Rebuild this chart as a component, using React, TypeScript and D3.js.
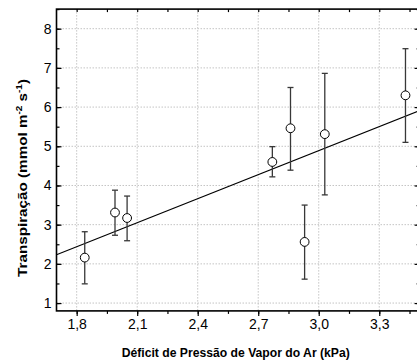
import { useEffect, useRef } from "react";
import * as d3 from "d3";

// values
const vpd = [1.84, 1.99, 2.05, 2.77, 2.86, 2.93, 3.03, 3.43];
const transp = [2.16, 3.31, 3.17, 4.6, 5.46, 2.56, 5.31, 6.3];
const errHigh = [2.82, 3.88, 3.73, 4.99, 6.5, 3.5, 6.86, 7.49];
const errLow = [1.49, 2.73, 2.59, 4.22, 4.39, 1.61, 3.76, 5.1];

// fitted line endpoints
const fitX = [1.7, 3.5];
const fitY = [2.235, 5.91];

const xTicks = [1.8, 2.1, 2.4, 2.7, 3.0, 3.3];
const yTicks = [1, 2, 3, 4, 5, 6, 7, 8];

export default function App() {
  const svgRef = useRef<SVGSVGElement>(null);

  useEffect(() => {
    document.body.style.margin = "0";
    const svg = d3.select(svgRef.current);
    svg.selectAll("*").remove();

    const W = 417, H = 363;
    const left = 56.5, right = 419.6, top = 9.1, bottom = 310.9;
    const font = "'Liberation Sans', Arial, sans-serif";

    const x = d3.scaleLinear().domain([1.7, 3.5]).range([left, right]);
    const y = d3.scaleLinear().domain([0.8, 8.5]).range([bottom, top]);

    svg.attr("width", W).attr("height", H).style("background", "#fff");

    // grid
    const grid = svg.append("g")
      .attr("stroke", "#c4c4c4")
      .attr("stroke-width", 1)
      .attr("stroke-dasharray", "1.5,1.5");
    grid.selectAll(".gx").data(xTicks).join("line")
      .attr("x1", d => x(d)).attr("x2", d => x(d))
      .attr("y1", top).attr("y2", bottom);
    grid.selectAll(".gy").data(yTicks).join("line")
      .attr("x1", left).attr("x2", right)
      .attr("y1", d => y(d)).attr("y2", d => y(d));

    // fit line
    const line = d3.line<number>()
      .x((d, i) => x(fitX[i]))
      .y(d => y(d));
    svg.append("path")
      .datum(fitY)
      .attr("d", line)
      .attr("fill", "none")
      .attr("stroke", "#000")
      .attr("stroke-width", 1.1);

    // error bars
    const eb = svg.append("g").attr("stroke", "#383838").attr("stroke-width", 1.3);
    vpd.forEach((v, i) => {
      const cx = x(v);
      eb.append("line").attr("x1", cx).attr("x2", cx)
        .attr("y1", y(errLow[i])).attr("y2", y(errHigh[i]));
      eb.append("line").attr("x1", cx - 3).attr("x2", cx + 3)
        .attr("y1", y(errLow[i])).attr("y2", y(errLow[i]));
      eb.append("line").attr("x1", cx - 3).attr("x2", cx + 3)
        .attr("y1", y(errHigh[i])).attr("y2", y(errHigh[i]));
    });

    // points
    svg.append("g").selectAll("circle")
      .data(vpd)
      .join("circle")
      .attr("cx", d => x(d))
      .attr("cy", (d, i) => y(transp[i]))
      .attr("r", 4.4)
      .attr("fill", "#fff")
      .attr("stroke", "#000")
      .attr("stroke-width", 1);

    // axes
    const yMinor = d3.range(1, 8.51, 0.5);
    const xMinor = d3.range(1.8, 3.46, 0.15);

    svg.append("g")
      .attr("transform", `translate(0,${bottom})`)
      .call(d3.axisBottom(x).tickValues(xMinor).tickSize(3).tickFormat(() => ""))
      .call(g => g.select(".domain").remove());
    svg.append("g")
      .attr("transform", `translate(0,${bottom})`)
      .call(d3.axisBottom(x).tickValues(xTicks).tickSize(5).tickPadding(3)
        .tickFormat(d => d3.format(".1f")(d as number).replace(".", ",")))
      .call(g => g.select(".domain").remove())
      .call(g => g.selectAll("text").attr("font-size", 14).attr("font-family", font).attr("fill", "#000"));

    svg.append("g")
      .attr("transform", `translate(${left},0)`)
      .call(d3.axisRight(y).tickValues(yMinor).tickSize(3).tickFormat(() => ""))
      .call(g => g.select(".domain").remove());
    svg.append("g")
      .attr("transform", `translate(${left},0)`)
      .call(d3.axisRight(y).tickValues(yTicks).tickSize(5).tickFormat(() => ""))
      .call(g => g.select(".domain").remove());
    svg.append("g")
      .attr("transform", `translate(${left},0)`)
      .call(d3.axisLeft(y).tickValues(yTicks).tickSize(0).tickPadding(5))
      .call(g => g.select(".domain").remove())
      .call(g => g.selectAll("text").attr("font-size", 14).attr("font-family", font).attr("fill", "#000"));

    // top and right ticks (inward)
    svg.append("g")
      .attr("transform", `translate(0,${top})`)
      .call(d3.axisBottom(x).tickValues(xMinor).tickSize(3).tickFormat(() => ""))
      .call(g => g.select(".domain").remove());
    svg.append("g")
      .attr("transform", `translate(${right},0)`)
      .call(d3.axisLeft(y).tickValues(yMinor).tickSize(3).tickFormat(() => ""))
      .call(g => g.select(".domain").remove());
    svg.append("g")
      .attr("transform", `translate(${right},0)`)
      .call(d3.axisLeft(y).tickValues(yTicks).tickSize(5).tickFormat(() => ""))
      .call(g => g.select(".domain").remove());

    svg.selectAll(".tick line").attr("stroke", "#000").attr("stroke-width", 1.2);

    // frame
    svg.append("rect")
      .attr("x", left).attr("y", top)
      .attr("width", right - left).attr("height", bottom - top)
      .attr("fill", "none")
      .attr("stroke", "#000")
      .attr("stroke-width", 1.6);

    // axis titles
    svg.append("text")
      .attr("x", (left + 417) / 2 - 1)
      .attr("y", 357)
      .attr("text-anchor", "middle")
      .attr("font-family", font)
      .attr("font-weight", "bold")
      .attr("font-size", 12.5)
      .attr("textLength", 228)
      .attr("lengthAdjust", "spacingAndGlyphs")
      .text("Déficit de Pressão de Vapor do Ar (kPa)");

    const yt = svg.append("text")
      .attr("transform", `translate(27,178) rotate(-90)`)
      .attr("text-anchor", "middle")
      .attr("font-family", font)
      .attr("font-weight", "bold")
      .attr("font-size", 13)
      .attr("textLength", 198)
      .attr("lengthAdjust", "spacingAndGlyphs");
    yt.append("tspan").text("Transpiração (mmol m");
    yt.append("tspan").attr("dy", -5.5).attr("font-size", 8.5).text("-2");
    yt.append("tspan").attr("dy", 5.5).text(" s");
    yt.append("tspan").attr("dy", -5.5).attr("font-size", 8.5).text("-1");
    yt.append("tspan").attr("dy", 5.5).text(")");
  }, []);

  return <svg ref={svgRef} />;
}
